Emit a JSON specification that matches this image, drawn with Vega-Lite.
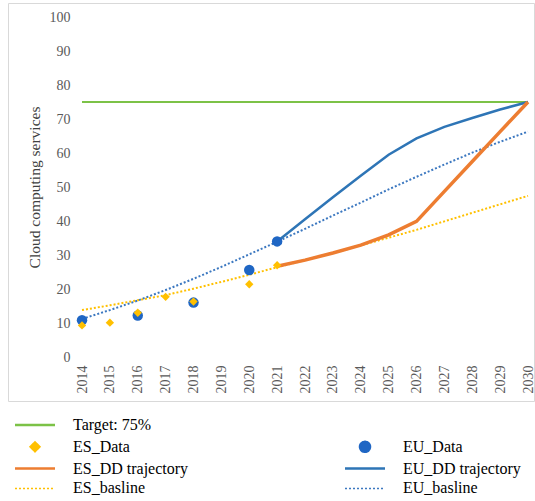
{
  "$schema": "https://vega.github.io/schema/vega-lite/v6.json",
  "autosize": "none",
  "width": 526,
  "height": 398,
  "padding": {"left": 8, "top": 3, "right": 1, "bottom": 100},
  "background": "white",
  "config": {
    "view": {"stroke": "#d9d9d9", "strokeWidth": 1},
    "font": "'Liberation Serif', 'Times New Roman', 'DejaVu Serif', serif"
  },
  "datasets": {
    "grid": [
      {"g": 0}, {"g": 10}, {"g": 20}, {"g": 30}, {"g": 40}, {"g": 50},
      {"g": 60}, {"g": 70}, {"g": 80}, {"g": 90}, {"g": 100}
    ],
    "rows": [
      {"series": "Target: 75%", "year": 2014, "value": 75},
      {"series": "Target: 75%", "year": 2030, "value": 75},

      {"series": "ES_Data", "year": 2014, "value": 9.3},
      {"series": "ES_Data", "year": 2015, "value": 10.1},
      {"series": "ES_Data", "year": 2016, "value": 13.0},
      {"series": "ES_Data", "year": 2017, "value": 17.7},
      {"series": "ES_Data", "year": 2018, "value": 16.3},
      {"series": "ES_Data", "year": 2020, "value": 21.4},
      {"series": "ES_Data", "year": 2021, "value": 27.0},

      {"series": "EU_Data", "year": 2014, "value": 10.8},
      {"series": "EU_Data", "year": 2016, "value": 12.2},
      {"series": "EU_Data", "year": 2018, "value": 16.0},
      {"series": "EU_Data", "year": 2020, "value": 25.6},
      {"series": "EU_Data", "year": 2021, "value": 34.0},

      {"series": "ES_DD trajectory", "year": 2021, "value": 26.7},
      {"series": "ES_DD trajectory", "year": 2022, "value": 28.5},
      {"series": "ES_DD trajectory", "year": 2023, "value": 30.6},
      {"series": "ES_DD trajectory", "year": 2024, "value": 32.9},
      {"series": "ES_DD trajectory", "year": 2025, "value": 35.9},
      {"series": "ES_DD trajectory", "year": 2026, "value": 39.9},
      {"series": "ES_DD trajectory", "year": 2027, "value": 48.7},
      {"series": "ES_DD trajectory", "year": 2028, "value": 57.5},
      {"series": "ES_DD trajectory", "year": 2029, "value": 66.3},
      {"series": "ES_DD trajectory", "year": 2030, "value": 75.0},

      {"series": "EU_DD trajectory", "year": 2021, "value": 34.0},
      {"series": "EU_DD trajectory", "year": 2022, "value": 40.5},
      {"series": "EU_DD trajectory", "year": 2023, "value": 47.0},
      {"series": "EU_DD trajectory", "year": 2024, "value": 53.3},
      {"series": "EU_DD trajectory", "year": 2025, "value": 59.5},
      {"series": "EU_DD trajectory", "year": 2026, "value": 64.3},
      {"series": "EU_DD trajectory", "year": 2027, "value": 67.7},
      {"series": "EU_DD trajectory", "year": 2028, "value": 70.3},
      {"series": "EU_DD trajectory", "year": 2029, "value": 72.8},
      {"series": "EU_DD trajectory", "year": 2030, "value": 75.0},

      {"series": "ES_basline", "year": 2014, "value": 13.8},
      {"series": "ES_basline", "year": 2015, "value": 15.2},
      {"series": "ES_basline", "year": 2016, "value": 16.7},
      {"series": "ES_basline", "year": 2017, "value": 18.2},
      {"series": "ES_basline", "year": 2018, "value": 20.1},
      {"series": "ES_basline", "year": 2019, "value": 22.1},
      {"series": "ES_basline", "year": 2020, "value": 24.2},
      {"series": "ES_basline", "year": 2021, "value": 26.4},
      {"series": "ES_basline", "year": 2022, "value": 28.5},
      {"series": "ES_basline", "year": 2023, "value": 30.6},
      {"series": "ES_basline", "year": 2024, "value": 32.8},
      {"series": "ES_basline", "year": 2025, "value": 35.1},
      {"series": "ES_basline", "year": 2026, "value": 37.4},
      {"series": "ES_basline", "year": 2027, "value": 39.9},
      {"series": "ES_basline", "year": 2028, "value": 42.4},
      {"series": "ES_basline", "year": 2029, "value": 44.9},
      {"series": "ES_basline", "year": 2030, "value": 47.4},

      {"series": "EU_basline", "year": 2014, "value": 11.2},
      {"series": "EU_basline", "year": 2015, "value": 13.8},
      {"series": "EU_basline", "year": 2016, "value": 16.6},
      {"series": "EU_basline", "year": 2017, "value": 19.7},
      {"series": "EU_basline", "year": 2018, "value": 23.0},
      {"series": "EU_basline", "year": 2019, "value": 26.5},
      {"series": "EU_basline", "year": 2020, "value": 30.2},
      {"series": "EU_basline", "year": 2021, "value": 33.9},
      {"series": "EU_basline", "year": 2022, "value": 37.7},
      {"series": "EU_basline", "year": 2023, "value": 41.6},
      {"series": "EU_basline", "year": 2024, "value": 45.4},
      {"series": "EU_basline", "year": 2025, "value": 49.3},
      {"series": "EU_basline", "year": 2026, "value": 53.0},
      {"series": "EU_basline", "year": 2027, "value": 56.6},
      {"series": "EU_basline", "year": 2028, "value": 60.1},
      {"series": "EU_basline", "year": 2029, "value": 63.3},
      {"series": "EU_basline", "year": 2030, "value": 66.3}
    ]
  },
  "encoding": {
    "x": {
      "field": "year",
      "type": "quantitative",
      "scale": {"domain": [2011.345, 2030.215], "nice": false, "zero": false},
      "axis": {
        "values": [2014, 2015, 2016, 2017, 2018, 2019, 2020, 2021, 2022, 2023, 2024, 2025, 2026, 2027, 2028, 2029, 2030],
        "format": "d",
        "title": null,
        "grid": false,
        "domain": false,
        "ticks": false,
        "offset": -44,
        "labelAngle": -90,
        "labelPadding": 8,
        "labelFontSize": 14,
        "labelColor": "#595959"
      }
    },
    "y": {
      "field": "value",
      "type": "quantitative",
      "scale": {"domain": [-12.941, 104.118], "nice": false, "zero": false},
      "axis": {
        "values": [0, 10, 20, 30, 40, 50, 60, 70, 80, 90, 100],
        "title": "Cloud computing services",
        "grid": false,
        "domain": false,
        "ticks": false,
        "offset": -70,
        "labelPadding": 8,
        "labelFontSize": 14,
        "labelColor": "#595959",
        "titleFontSize": 15.5,
        "titleFontWeight": "normal",
        "titleColor": "#404040",
        "titlePadding": 7,
        "titleY": 184
      }
    }
  },
  "layer": [
    {
      "data": {"name": "grid"},
      "mark": {"type": "rule", "color": "#d9d9d9", "strokeWidth": 1},
      "encoding": {
        "x": {"datum": 2014, "type": "quantitative"},
        "x2": {"datum": 2030},
        "y": {"field": "g", "type": "quantitative"}
      }
    },
    {
      "data": {"name": "rows"},
      "transform": [{"filter": "datum.series === 'Target: 75%'"}],
      "mark": {"type": "line", "strokeWidth": 2},
      "encoding": {
        "color": {
          "field": "series",
          "type": "nominal",
          "scale": {
            "domain": ["Target: 75%", "ES_Data", "ES_DD trajectory", "ES_basline", " ", "EU_Data", "EU_DD trajectory", "EU_basline"],
            "range": ["#7cc247", "#ffc000", "#ed7d31", "#ffc000", "#ffffff", "#1f66c4", "#2e75b6", "#3c78c0"]
          },
          "legend": {
            "orient": "none",
            "legendX": 19,
            "legendY": 414,
            "title": null,
            "columns": 2,
            "columnPadding": 151,
            "rowPadding": 3.8,
            "padding": 0,
            "symbolType": "stroke",
            "symbolSize": 1600,
            "symbolStrokeWidth": 2.5,
            "labelOffset": 30,
            "labelFontSize": 16,
            "labelColor": "#000000",
            "labelLimit": 300,
            "encode": {
              "symbols": {
                "update": {
                  "shape": {"signal": "datum.value === 'ES_Data' ? 'diamond' : datum.value === 'EU_Data' ? 'circle' : 'stroke'"},
                  "size": {"signal": "datum.value === 'ES_Data' ? 75 : datum.value === 'EU_Data' ? 100 : 1600"},
                  "fill": {"signal": "datum.value === 'ES_Data' || datum.value === 'EU_Data' ? scale('color', datum.value) : 'transparent'"},
                  "stroke": {"signal": "datum.value === 'ES_Data' || datum.value === 'EU_Data' || datum.value === ' ' ? 'transparent' : scale('color', datum.value)"},
                  "strokeDash": {"signal": "datum.value === 'ES_basline' || datum.value === 'EU_basline' ? [2, 2] : [1, 0]"},
                  "strokeWidth": {"signal": "datum.value === 'ES_basline' || datum.value === 'EU_basline' ? 1.5 : 2.5"},
                  "opacity": {"value": 1}
                }
              }
            }
          }
        }
      }
    },
    {
      "data": {"name": "rows"},
      "transform": [{"filter": "datum.series === 'ES_basline' || datum.series === 'EU_basline'"}],
      "mark": {"type": "line", "strokeWidth": 2, "strokeDash": [2, 2]},
      "encoding": {
        "color": {"field": "series", "type": "nominal"},
        "detail": {"field": "series"}
      }
    },
    {
      "data": {"name": "rows"},
      "transform": [{"filter": "datum.series === 'EU_DD trajectory'"}],
      "mark": {"type": "line", "strokeWidth": 2.5},
      "encoding": {
        "color": {"field": "series", "type": "nominal"}
      }
    },
    {
      "data": {"name": "rows"},
      "transform": [{"filter": "datum.series === 'ES_DD trajectory'"}],
      "mark": {"type": "line", "strokeWidth": 3.5},
      "encoding": {
        "color": {"field": "series", "type": "nominal"}
      }
    },
    {
      "data": {"name": "rows"},
      "transform": [{"filter": "datum.series === 'EU_Data'"}],
      "mark": {"type": "point", "shape": "circle", "filled": true, "opacity": 1, "size": 110},
      "encoding": {
        "color": {"field": "series", "type": "nominal"}
      }
    },
    {
      "data": {"name": "rows"},
      "transform": [{"filter": "datum.series === 'ES_Data'"}],
      "mark": {"type": "point", "shape": "diamond", "filled": true, "opacity": 1, "size": 70},
      "encoding": {
        "color": {"field": "series", "type": "nominal"}
      }
    }
  ]
}
